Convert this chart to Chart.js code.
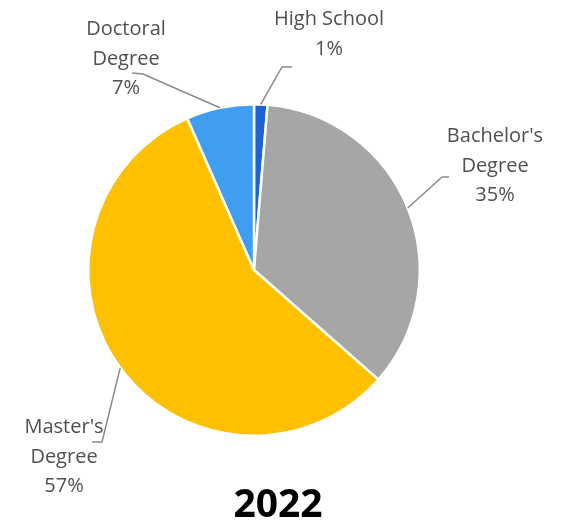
<!DOCTYPE html>
<html>
<head>
<meta charset="utf-8">
<script src="https://cdn.jsdelivr.net/npm/chart.js@4.4.1/dist/chart.umd.min.js"></script>
<style>
  html, body { margin: 0; padding: 0; background: #ffffff; }
  canvas { display: block; }
</style>
</head>
<body>
<canvas id="myChart" width="572" height="523"></canvas>
<script>
const categories = ["High School", "Bachelor's Degree", "Master's Degree", "Doctoral Degree"];
const shares = [1.3, 35.2, 56.9, 6.6];
const sliceColors = ["#1f62d6", "#a6a6a6", "#ffc000", "#409ef0"];
const yearTitle = "2022";

// where each label sits and where its leader line bends
const labelLayout = [
    { x: 329, y: 25, elbow: [282, 67], end: [292, 67], lines: ["High School"] },
    { x: 495, y: 142, elbow: [442, 177], end: [449, 177], lines: ["Bachelor's", "Degree"] },
    { x: 64, y: 433, elbow: [102, 442], end: [92, 442], lines: ["Master's", "Degree"] },
    { x: 126, y: 35, elbow: [143, 74], end: [132, 73], lines: ["Doctoral", "Degree"] },
];

const pieLabels = {
    id: "pieLabels",
    afterDraw(chart) {
        const ctx = chart.ctx;
        const arcs = chart.getDatasetMeta(0).data;
        const total = shares.reduce((a, b) => a + b, 0);
        ctx.save();
        arcs.forEach((arc, i) => {
            const p = arc.getProps(["x", "y", "startAngle", "endAngle", "outerRadius"], true);
            const mid = (p.startAngle + p.endAngle) / 2;
            const sx = p.x + Math.cos(mid) * p.outerRadius;
            const sy = p.y + Math.sin(mid) * p.outerRadius;
            const lay = labelLayout[i];
            ctx.strokeStyle = "#8a8a8a";
            ctx.lineWidth = 1.5;
            ctx.beginPath();
            ctx.moveTo(sx, sy);
            ctx.lineTo(lay.elbow[0], lay.elbow[1]);
            ctx.lineTo(lay.end[0], lay.end[1]);
            ctx.stroke();

            const lines = lay.lines.concat([Math.round(shares[i] / total * 100) + "%"]);
            ctx.fillStyle = "#505050";
            ctx.font = "20px 'Open Sans'";
            ctx.textAlign = "center";
            ctx.textBaseline = "alphabetic";
            lines.forEach((t, k) => ctx.fillText(t, lay.x, lay.y + k * 29.5));
        });

        ctx.fillStyle = "#000000";
        ctx.font = "bold 39px 'Open Sans'";
        ctx.textAlign = "center";
        ctx.fillText(yearTitle, 278, 517);
        ctx.restore();
    },
};

const data = {
    labels: categories,
    datasets: [
        {
            data: shares,
            backgroundColor: sliceColors,
            borderColor: "#ffffff",
            borderWidth: 2.5,
        },
    ],
};

const config = {
    type: "pie",
    data: data,
    options: {
        responsive: false,
        animation: false,
        layout: {
            padding: { left: 87, top: 103, right: 151, bottom: 86 },
        },
        plugins: {
            legend: { display: false },
            tooltip: { enabled: false },
        },
    },
    plugins: [pieLabels],
};

new Chart(document.getElementById("myChart"), config);
</script>
</body>
</html>
